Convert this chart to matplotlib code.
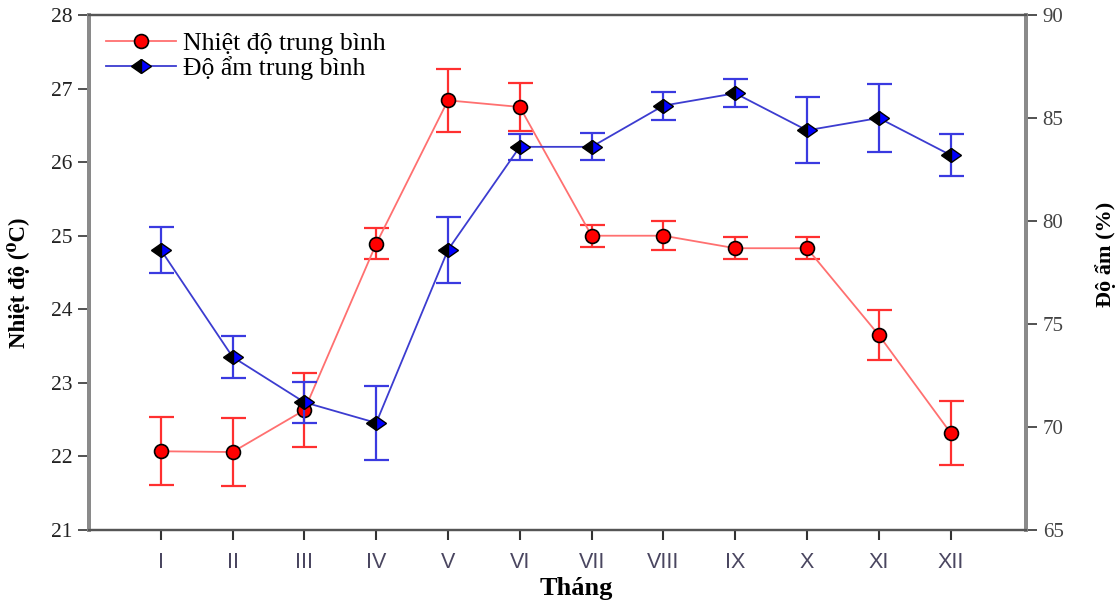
import matplotlib
matplotlib.use("Agg")
import matplotlib.pyplot as plt
from matplotlib.markers import MarkerStyle
from matplotlib.transforms import Affine2D
import numpy as np

months = ["I", "II", "III", "IV", "V", "VI", "VII", "VIII", "IX", "X", "XI", "XII"]
temp_mean = [22.07, 22.06, 22.63, 24.89, 26.84, 26.75, 25.00, 25.00, 24.83, 24.83, 23.65, 22.32]
temp_err = [0.46, 0.46, 0.50, 0.21, 0.43, 0.33, 0.15, 0.20, 0.15, 0.15, 0.34, 0.43]
hum_mean = [78.6, 73.4, 71.2, 70.2, 78.6, 83.6, 83.6, 85.6, 86.2, 84.4, 85.0, 83.2]
hum_err = [1.1, 1.0, 1.0, 1.8, 1.6, 0.63, 0.65, 0.68, 0.67, 1.6, 1.65, 1.0]

temp_label = "Nhiệt độ trung bình"
hum_label = "Độ ẩm trung bình"

serif = ["Liberation Serif", "DejaVu Serif"]

fig = plt.figure(figsize=(11.17, 6.03), dpi=100)
ax = fig.add_axes([89/1117, 73/603, (1026-89)/1117, (530-15)/603])
ax2 = ax.twinx()

x = np.arange(1, len(months) + 1)

red_line = "#ff7070"
red_err = "#ff3030"
blue_line = "#3c3cd0"
blue_err = "#3a3ae0"

ax.errorbar(x, temp_mean, yerr=temp_err, fmt="none", ecolor=red_err, elinewidth=1.6,
            capsize=9, capthick=1.6, zorder=2)
lt, = ax.plot(x, temp_mean, color=red_line, lw=1.3, marker="o", markersize=10,
              markerfacecolor="#ff0000", markeredgecolor="black", markeredgewidth=1.2,
              zorder=3, label=temp_label)

dmark = MarkerStyle("D", fillstyle="left", transform=Affine2D().scale(1.35, 1.0))
ax2.errorbar(x, hum_mean, yerr=hum_err, fmt="none", ecolor=blue_err, elinewidth=1.6,
             capsize=9, capthick=1.6, zorder=2)
lh, = ax2.plot(x, hum_mean, color=blue_line, lw=1.3, marker=dmark, markersize=7.6,
               markerfacecolor="black", markerfacecoloralt="#0000ff",
               markeredgecolor="black", markeredgewidth=1.0, zorder=3, label=hum_label)

ax.set_xlim(0, 13.05)
ax.set_ylim(21, 28)
ax2.set_ylim(65, 90)
ax.set_yticks(range(21, 29))
ax2.set_yticks(range(65, 91, 5))
ax.set_xticks(x)
ax.set_xticklabels(months, fontfamily="Liberation Sans", fontsize=15.5, color="#4a4660")

for lab in ax.get_yticklabels():
    lab.set_fontfamily(serif)
    lab.set_fontsize(15.5)
    lab.set_color("#222222")
for lab in ax2.get_yticklabels():
    lab.set_fontfamily(serif)
    lab.set_fontsize(15)
    lab.set_color("#444444")

ax.tick_params(axis="x", direction="out", length=7, width=1.5, color="#333333", pad=9)
ax.tick_params(axis="y", direction="out", length=8, width=1.2, color="#333333", pad=4)
ax2.tick_params(axis="y", direction="out", length=8, width=1.2, color="#333333", pad=4)

for a in (ax, ax2):
    a.spines["left"].set_color("#8a8a8a")
    a.spines["left"].set_linewidth(2.8)
    a.spines["right"].set_color("#8a8a8a")
    a.spines["right"].set_linewidth(2.8)
    a.spines["top"].set_color("#555555")
    a.spines["top"].set_linewidth(1.6)
    a.spines["bottom"].set_color("#555555")
    a.spines["bottom"].set_linewidth(1.6)

ax.set_ylabel("Nhiệt độ (⁰C)", fontfamily=serif, fontweight="bold", fontsize=16.5)
ax2.set_ylabel("Độ ẩm (%)", fontfamily=serif, fontweight="bold", fontsize=16)
ax.yaxis.set_label_coords(-0.063, 0.48)
ax2.yaxis.set_label_coords(1.074, 0.535)

fig.text(576/1117, 1 - 588/603, "Tháng", fontfamily=serif, fontweight="bold", fontsize=19,
         ha="center", va="center")

leg = ax2.legend(handles=[lt, lh], loc="upper left", bbox_to_anchor=(0.002, 0.997),
                 frameon=False, prop={"family": serif, "size": 18.5}, handlelength=2.7,
                 handletextpad=0.3, labelspacing=0.05, borderaxespad=0.2)

fig.savefig("out.png", dpi=100)
